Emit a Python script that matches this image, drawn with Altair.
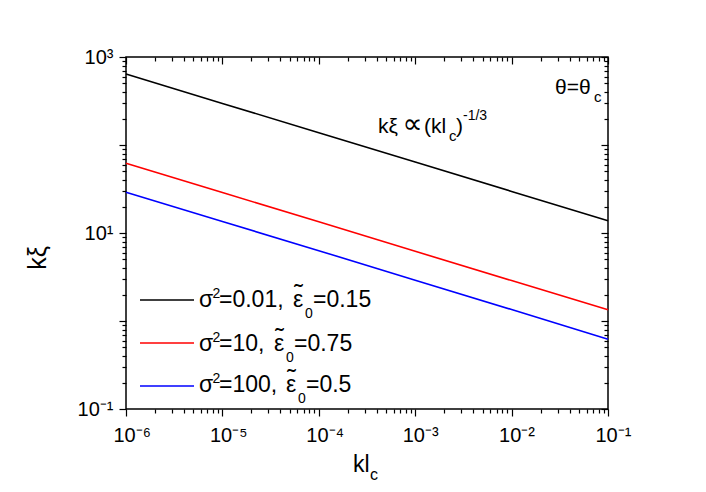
import altair as alt
import pandas as pd

# ---------------- data ----------------
kl = [1e-6, 1e-5, 1e-4, 1e-3, 1e-2, 1e-1]
series_names = ["σ²=0.01, ε̃₀=0.15", "σ²=10, ε̃₀=0.75", "σ²=100, ε̃₀=0.5"]
series_colors = ["#000000", "#ff0000", "#0000ff"]
kxi_black = [640, 297, 138, 64, 29.7, 13.8]
kxi_red = [62, 28.8, 13.4, 6.2, 2.88, 1.34]
kxi_blue = [29, 13.5, 6.3, 2.9, 1.35, 0.62]

# legend label pieces: sigma^2 value and epsilon_0 value
sigma2_text = ["=0.01,", "=10,", "=100,"]
eps0_text = ["=0.15", "=0.75", "=0.5"]

x_major = [1e-6, 1e-5, 1e-4, 1e-3, 1e-2, 1e-1]
y_major = [1e-1, 1e0, 1e1, 1e2, 1e3]
x_minor = [m * 10.0 ** e for e in range(-6, -1) for m in range(2, 10)]
y_minor = [m * 10.0 ** e for e in range(-1, 3) for m in range(2, 10)]

rows = []
for name, vals in zip(series_names, [kxi_black, kxi_red, kxi_blue]):
    for xv, yv in zip(kl, vals):
        rows.append({"kl": xv, "kxi": yv, "series": name})
df = pd.DataFrame(rows)

FONT = "Liberation Sans"
W, H = 482, 352
OX, OY = 126, 57  # page position of plot origin

xs = alt.Scale(type="log", domain=[1e-6, 1e-1], nice=False)
ys = alt.Scale(type="log", domain=[1e-1, 1e3], nice=False)

SUP = "['⁻⁶','⁻⁵','⁻⁴','⁻³','⁻²','⁻¹','⁰','¹','²','³']"
EXP = "round(log(datum.value)/LN10)"
x_label = "'10' + " + SUP + "[" + EXP + "+6]"
y_label = "abs(" + EXP + ") % 2 == 1 ? '10' + " + SUP + "[" + EXP + "+6] : ''"

lines = alt.Chart(df).mark_line(strokeWidth=1.6).encode(
    x=alt.X("kl:Q", scale=xs, axis=alt.Axis(
        orient="bottom", values=x_major, tickSize=7, tickWidth=1.2, tickColor="black",
        labelFont=FONT, labelFontSize=20, labelColor="black", labelPadding=9,
        labelExpr=x_label, labelAlign="left", labelOffset=-13,
        labelFlush=False, labelOverlap=False, title=None, domain=False, grid=False)),
    y=alt.Y("kxi:Q", scale=ys, axis=alt.Axis(
        orient="left", values=y_major, tickSize=7, tickWidth=1.2, tickColor="black",
        labelFont=FONT, labelFontSize=20, labelColor="black", labelPadding=6,
        labelExpr=y_label, labelFlush=False, labelOverlap=False,
        title=None, domain=False, grid=False)),
    color=alt.Color("series:N", scale=alt.Scale(domain=series_names, range=series_colors),
                    legend=alt.Legend(orient="none", legendX=13, legendY=232, title=None,
                                      symbolType="stroke", symbolSize=2916, symbolStrokeWidth=1.6,
                                      labelFont=FONT, labelFontSize=21, labelColor="black",
                                      labelExpr="''",
                                      clipHeight=22, rowPadding=21, labelOffset=7, padding=0,
                                      labelLimit=400)),
)


def tick_layer(xvals, yvals, size, xorient, yorient, offset):
    return alt.Chart(df).mark_line(opacity=0).encode(
        x=alt.X("kl:Q", scale=xs, axis=alt.Axis(
            orient=xorient, values=xvals, tickSize=size, tickWidth=1.2, tickColor="black",
            offset=offset, labels=False, title=None, domain=False, grid=False)),
        y=alt.Y("kxi:Q", scale=ys, axis=alt.Axis(
            orient=yorient, values=yvals, tickSize=size, tickWidth=1.2, tickColor="black",
            offset=offset, labels=False, title=None, domain=False, grid=False)),
        detail="series:N",
    )


minor_out = tick_layer(x_minor, y_minor, 4, "bottom", "left", 0)
major_in = tick_layer(x_major, y_major, 7, "top", "right", -7)
minor_in = tick_layer(x_minor, y_minor, 4, "top", "right", -4)

one = pd.DataFrame({"a": [0]})


def txt(s, px, py, size, align="left", baseline="alphabetic", angle=0, font=FONT):
    return alt.Chart(one).mark_text(
        text=s, font=font, fontSize=size, align=align, baseline=baseline,
        angle=angle, color="black").encode(x=alt.value(px - OX), y=alt.value(py - OY))


texts = [
    txt("θ=θ", 555, 94, 21),
    txt("c", 594, 102, 15),
    txt("kξ", 378, 133, 21),
    txt("∝", 412.5, 133, 28, align="center", font="DejaVu Sans"),
    txt("(kl", 424, 133, 21),
    txt("c", 449, 141, 15),
    txt(")", 456, 133, 21),
    txt("-1/3", 463, 120, 14),
    txt("kl", 353, 472, 23),
    txt("c", 370, 480, 16),
    txt("kξ", 38, 258, 25, align="center", baseline="middle", angle=270),
]

# legend labels, composed piece by piece (superscript, tilde, subscript)
leg_base = [307, 351, 392]
leg_eps_x = [293, 274, 286]
for i in range(3):
    b = leg_base[i]
    ex = leg_eps_x[i]
    texts += [
        txt("σ", 199, b, 23),
        txt("2", 212.5, b - 9, 14),
        txt(sigma2_text[i], 219, b, 23),
        txt("ε", ex, b, 23),
        txt("˜", ex + 5.5, b - 5, 26, align="center"),
        txt("0", ex + 12, b + 11, 14),
        txt(eps0_text[i], ex + 20, b, 23),
    ]

chart = alt.layer(lines, minor_out, major_in, minor_in, *texts).resolve_axis(
    x="independent", y="independent"
).properties(
    width=W, height=H,
    autosize=alt.AutoSizeParams(type="none"),
    padding={"left": 118, "top": 49, "right": 80, "bottom": 73},
).configure_view(stroke="black", strokeWidth=1.5)

chart.save("out.html", embed_options={"renderer": "svg", "actions": False})
